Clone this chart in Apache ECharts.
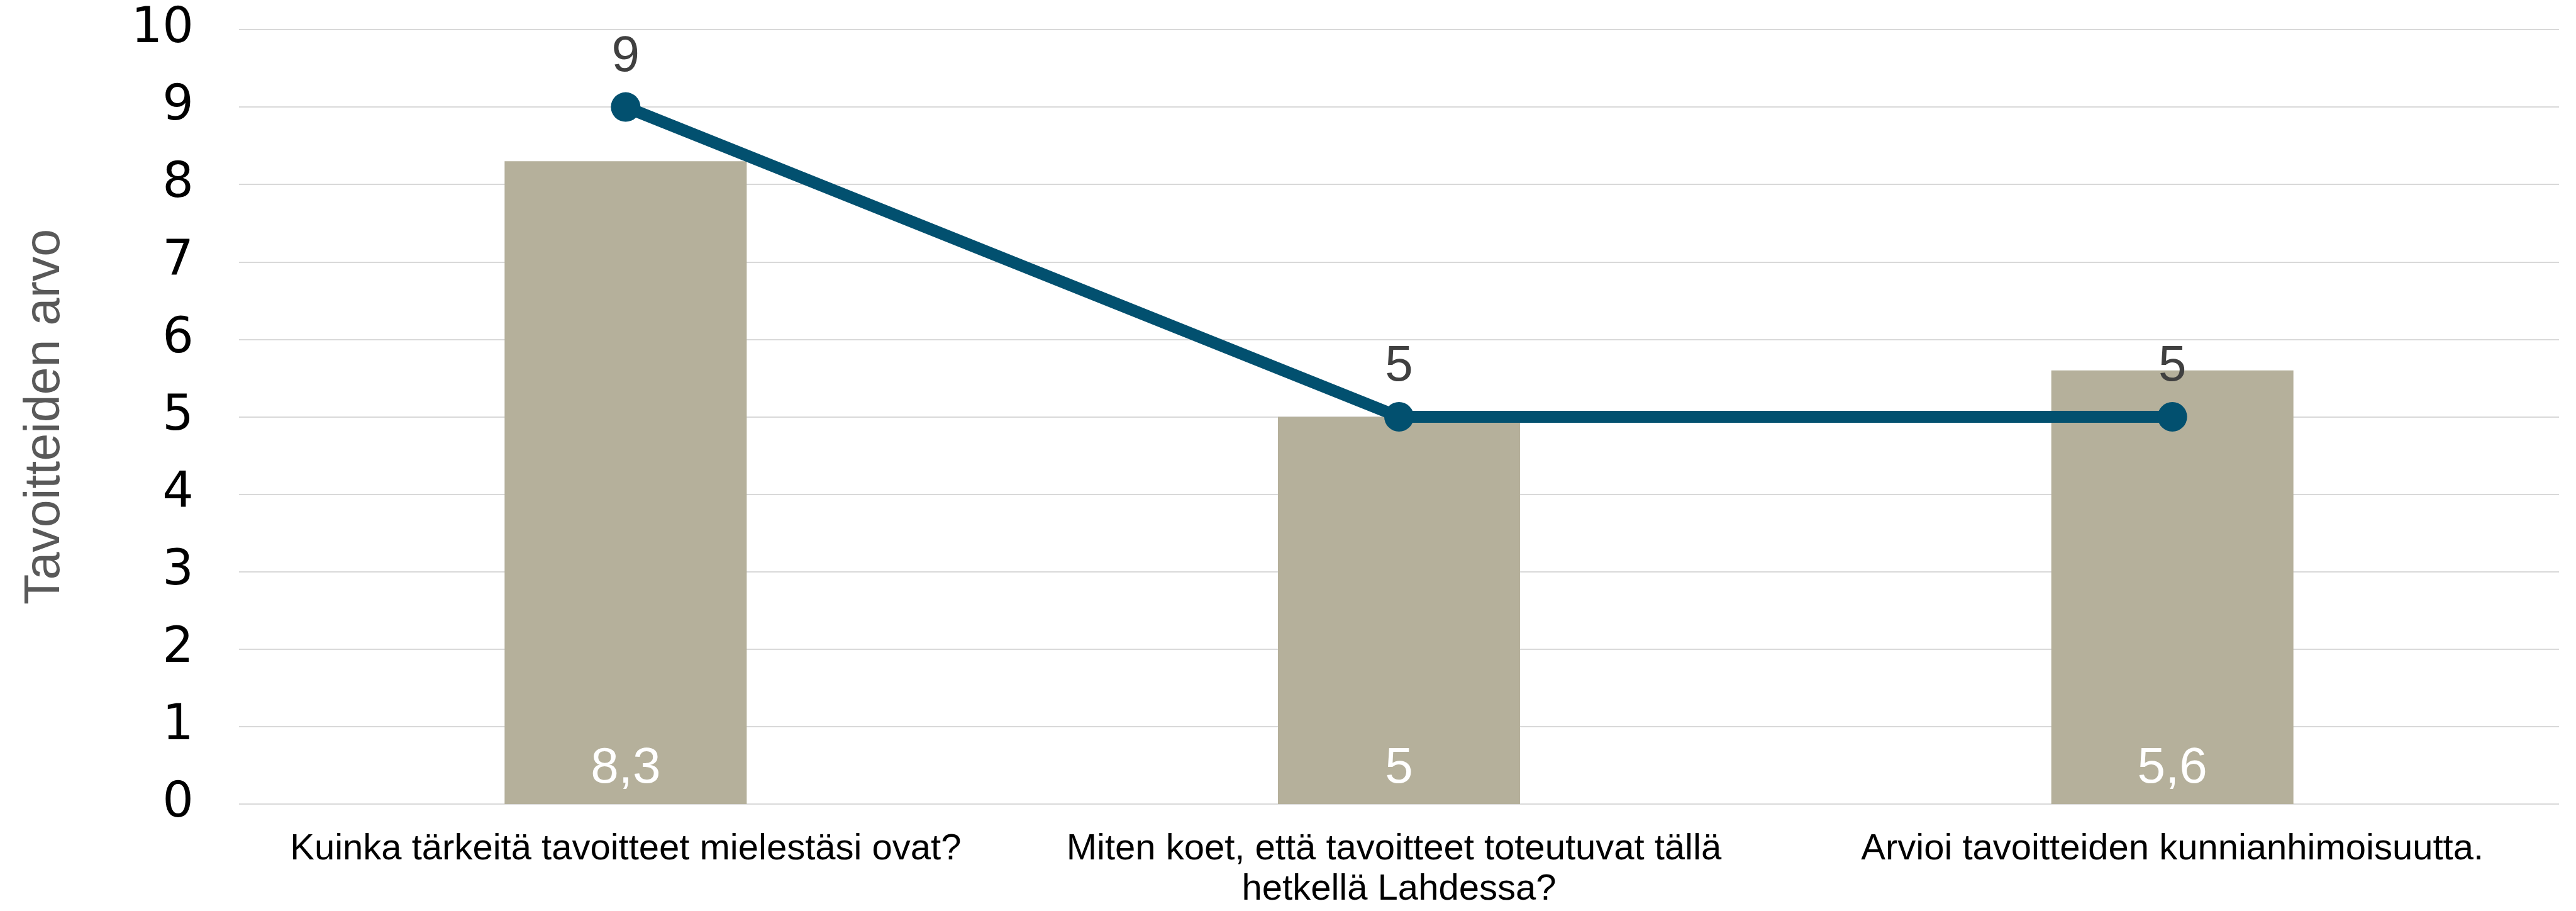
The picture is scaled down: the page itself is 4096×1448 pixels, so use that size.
<!DOCTYPE html>
<html>
<head>
<meta charset="utf-8">
<script src="https://cdn.jsdelivr.net/npm/echarts@6/dist/echarts.min.js"></script>
<style>
  html, body { margin: 0; padding: 0; background: #fff; }
  #chart { width: 4096px; height: 1448px; }
</style>
</head>
<body>
<div id="chart"></div>
<script>
const categories = [
  "Kuinka tärkeitä tavoitteet mielestäsi ovat?",
  "Miten koet, että tavoitteet toteutuvat tällä hetkellä Lahdessa?",
  "Arvioi tavoitteiden kunnianhimoisuutta.",
];
const barValues = [8.3, 5, 5.6];
const lineValues = [9, 5, 5];
const yTicks = { min: 0, max: 10, interval: 1 };
const yTitle = "Tavoitteiden arvo";

const fmt = (v) => String(v).replace(".", ",");

const chart = echarts.init(document.getElementById("chart"));

const option = {
  animation: false,
  grid: {
    left: 380,
    right: 27,
    top: 47,
    bottom: 170,
  },
  xAxis: {
    type: "category",
    data: categories,
    axisLine: { show: false },
    axisTick: { show: false },
    axisLabel: {
      interval: 0,
      margin: 40,
      width: 1229,
      overflow: "break",
      lineHeight: 64,
      fontSize: 58,
      fontFamily: "Liberation Sans",
      color: "#000",
    },
  },
  yAxis: {
    type: "value",
    min: yTicks.min,
    max: yTicks.max,
    interval: yTicks.interval,
    name: yTitle,
    nameLocation: "middle",
    nameGap: 268,
    nameTextStyle: {
      fontSize: 79,
      fontFamily: "Liberation Sans",
      color: "#595959",
    },
    axisLine: { show: false },
    axisTick: { show: false },
    axisLabel: {
      margin: 72,
      fontSize: 78,
      fontFamily: "DejaVu Sans",
      color: "#000",
    },
    splitLine: {
      lineStyle: { color: "#d9d9d9", width: 2 },
    },
  },
  series: [
    {
      type: "bar",
      data: barValues,
      barWidth: 385,
      itemStyle: { color: "#b5b09b" },
      label: {
        show: true,
        position: "insideBottom",
        distance: 16,
        fontSize: 80,
        fontFamily: "Liberation Sans",
        color: "#fff",
        formatter: (p) => fmt(p.value),
      },
    },
    {
      type: "line",
      data: lineValues,
      symbol: "circle",
      symbolSize: 47,
      lineStyle: { color: "#02506f", width: 19 },
      itemStyle: { color: "#02506f" },
      label: {
        show: true,
        position: "top",
        distance: 16,
        fontSize: 80,
        fontFamily: "Liberation Sans",
        color: "#404040",
        formatter: (p) => fmt(p.value),
      },
      z: 3,
    },
  ],
};

chart.setOption(option);
</script>
</body>
</html>
